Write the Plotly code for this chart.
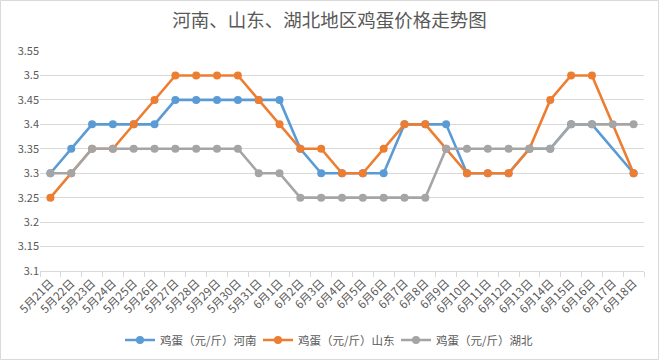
import plotly.graph_objects as go

categories = ["5月21日", "5月22日", "5月23日", "5月24日", "5月25日", "5月26日", "5月27日",
              "5月28日", "5月29日", "5月30日", "5月31日", "6月1日", "6月2日", "6月3日",
              "6月4日", "6月5日", "6月6日", "6月7日", "6月8日", "6月9日", "6月10日",
              "6月11日", "6月12日", "6月13日", "6月14日", "6月15日", "6月16日", "6月17日", "6月18日"]

henan = [3.30, 3.35, 3.40, 3.40, 3.40, 3.40, 3.45, 3.45, 3.45, 3.45, 3.45, 3.45, 3.35, 3.30,
         3.30, 3.30, 3.30, 3.40, 3.40, 3.40, 3.30, 3.30, 3.30, 3.35, 3.35, 3.40, 3.40, None, 3.30]
shandong = [3.25, 3.30, 3.35, 3.35, 3.40, 3.45, 3.50, 3.50, 3.50, 3.50, 3.45, 3.40, 3.35, 3.35,
            3.30, 3.30, 3.35, 3.40, 3.40, 3.35, 3.30, 3.30, 3.30, 3.35, 3.45, 3.50, 3.50, None, 3.30]
hubei = [3.30, 3.30, 3.35, 3.35, 3.35, 3.35, 3.35, 3.35, 3.35, 3.35, 3.30, 3.30, 3.25, 3.25,
         3.25, 3.25, 3.25, 3.25, 3.25, 3.35, 3.35, 3.35, 3.35, 3.35, 3.35, 3.40, 3.40, 3.40, 3.40]

series_names = ["鸡蛋（元/斤）河南", "鸡蛋（元/斤）山东", "鸡蛋（元/斤）湖北"]
series_values = [henan, shandong, hubei]
colors = ["#5B9BD5", "#ED7D31", "#A5A5A5"]

FONT = "Noto Sans CJK SC, Microsoft YaHei, sans-serif"

fig = go.Figure()
for name, vals, c in zip(series_names, series_values, colors):
    fig.add_trace(go.Scatter(
        x=categories, y=vals, name=name, mode="lines+markers",
        connectgaps=True,
        line=dict(color=c, width=2.6),
        marker=dict(color=c, size=8),
    ))

W, H = 659, 360
ml, mr, mt, mb = 40, 15, 51, 89
pw, ph = W - ml - mr, H - mt - mb

fig.update_layout(
    width=W, height=H,
    margin=dict(l=ml, r=mr, t=mt, b=mb, autoexpand=False),
    paper_bgcolor="white", plot_bgcolor="white",
    font=dict(family=FONT, color="#595959", size=11),
    title=dict(text="河南、山东、湖北地区鸡蛋价格走势图", x=0.5, xanchor="center",
               y=1 - 21 / H, yanchor="middle",
               font=dict(size=18.5, color="#595959", family=FONT)),
    showlegend=True,
    legend=dict(orientation="h", x=(327 - ml) / pw, xanchor="center",
                y=-(340 - (H - mb)) / ph, yanchor="middle",
                font=dict(size=11.5, color="#595959", family=FONT), itemwidth=30,
                entrywidth=93, entrywidthmode="pixels",
                bgcolor="rgba(0,0,0,0)"),
    xaxis=dict(type="category", tickangle=-45, showgrid=False, showline=True, automargin=False,
               linecolor="#D9D9D9", linewidth=1, ticks="outside", tickson="boundaries",
               ticklen=5, tickcolor="#D9D9D9", tickfont=dict(size=11.5, color="#595959"),
               range=[-0.5, len(categories) - 0.5]),
    yaxis=dict(range=[3.1, 3.55], dtick=0.05, tick0=3.1, showgrid=True, gridcolor="#D9D9D9",
               gridwidth=1, zeroline=False, showline=False, ticks="", automargin=False,
               tickfont=dict(size=11, color="#595959")),
    shapes=[dict(type="rect", xref="paper", yref="paper",
                 x0=(0.5 - ml) / pw, x1=(W - 0.5 - ml) / pw,
                 y0=-(mb - 0.5) / ph, y1=1 + (mt - 0.5) / ph,
                 line=dict(color="#D9D9D9", width=1))],
)

fig.write_html("out.html", config={"displayModeBar": False},
               post_script="document.body.style.margin='0';document.body.style.padding='0';")
